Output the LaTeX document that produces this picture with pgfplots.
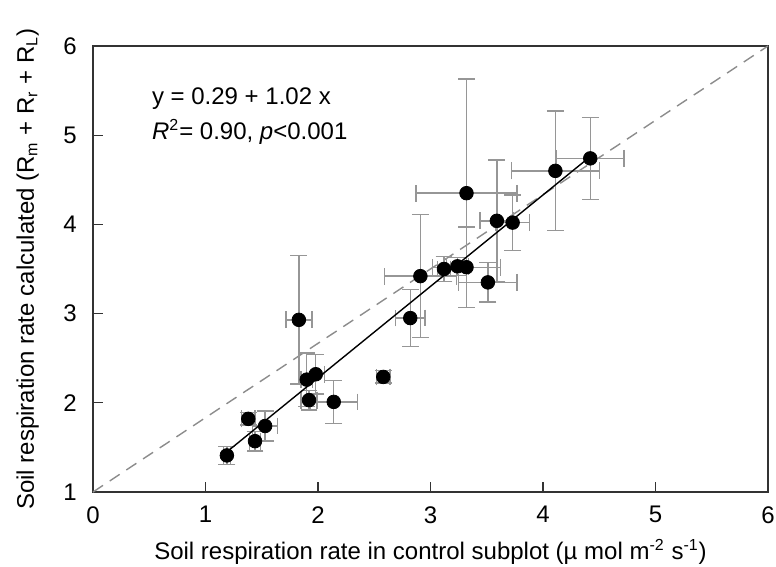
\documentclass[border=0pt]{standalone}
\usepackage{pgfplots}
\pgfplotsset{compat=1.18}
\usepackage{pgfplotstable}
\usepackage{fontspec}
\setmainfont{Liberation Sans}

\definecolor{errgray}{RGB}{150,150,150}
\definecolor{dashgray}{RGB}{140,140,140}

% x, y, x error, y error
\pgfplotstableread{
x     y     ex    ey
1.19  1.41  0.03  0.10
1.38  1.82  0.06  0.07
1.44  1.57  0.05  0.11
1.53  1.74  0.11  0.17
1.83  2.93  0.115 0.72
1.90  2.26  0.05  0.30
1.92  2.03  0.07  0.11
1.98  2.32  0.08  0.22
2.14  2.01  0.21  0.24
2.58  2.29  0.06  0.07
2.82  2.95  0.13  0.32
2.91  3.42  0.32  0.69
3.12  3.50  0.06  0.14
3.24  3.53  0.10  0.10
3.32  3.52  0.30  0.45
3.32  4.35  0.45  1.28
3.51  3.35  0.26  0.22
3.59  4.04  0.15  0.68
3.73  4.02  0.15  0.31
4.11  4.60  0.39  0.67
4.42  4.74  0.30  0.46
}\resp

\begin{document}
\fontsize{12}{14}\selectfont
\begin{tikzpicture}
\path[use as bounding box] (-46.5pt,-37.5pt) rectangle (341.5pt,246pt);
\begin{axis}[
  at={(0,0)}, anchor=south west,
  scale only axis,
  width=337.5pt, height=223pt,
  xmin=0, xmax=6, ymin=1, ymax=6,
  xtick={0,...,6}, ytick={1,...,6},
  tick align=inside,
  xtick pos=bottom, ytick pos=left,
  major tick length=5pt,
  axis line style={line width=0.6pt, black!80},
  tick style={line width=0.6pt, black!80},
  /pgf/number format/assume math mode=true,
  ticklabel style={font=\fontsize{12}{14}\selectfont},
  xticklabel style={yshift=-3pt},
  yticklabel style={xshift=-4pt},
  label style={font=\fontsize{12}{14}\selectfont},
  xlabel={Soil respiration rate in control subplot (\textmu\ mol m\textsuperscript{-2} s\textsuperscript{-1})},
  ylabel={Soil respiration rate calculated (R\textsubscript{m} + R\textsubscript{r} + R\textsubscript{L})},
  xlabel style={yshift=0pt},
  ylabel style={yshift=4pt},
  clip=false,
]
\addplot[dashgray, dashed, dash pattern=on 6pt off 4pt, line width=0.7pt] coordinates {(0,1) (6,6)};
\addplot[only marks, mark=*, mark size=3.4pt, black,
  error bars/.cd,
    x dir=both, y dir=both, x explicit, y explicit,
    error bar style={errgray, line width=0.7pt},
    error mark options={errgray, line width=0.7pt, rotate=90, mark size=4.2pt},
] table[x=x, y=y, x error=ex, y error=ey] {\resp};
\addplot[black, line width=0.7pt] coordinates {(1.19,1.45) (4.40,4.74)};
\node[anchor=west] at (axis cs:0.45,5.41) {y = 0.29 + 1.02 x};
\node[anchor=west] at (axis cs:0.45,5.04) {\textit{R}\textsuperscript{2}= 0.90, \textit{p}<0.001};
\end{axis}
\end{tikzpicture}
\end{document}
